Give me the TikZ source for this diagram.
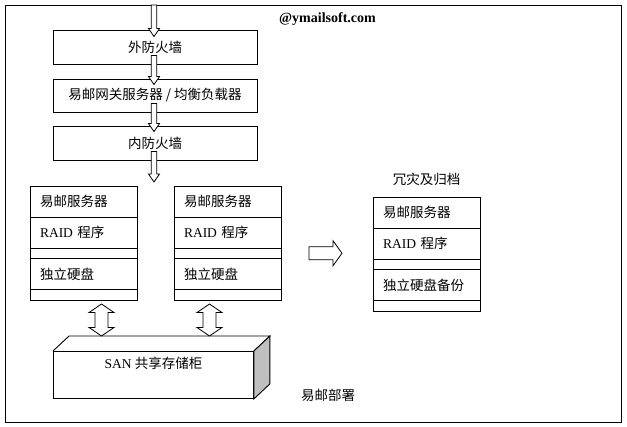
\documentclass[tikz,border=0pt]{standalone}
\usepackage{fontspec}
\setmainfont{Liberation Serif}
\newfontfamily\zh{Noto Sans CJK SC}
\usetikzlibrary{calc,positioning}
\tikzset{>=stealth}
\tikzset{
  wallbox/.style={draw, line width=0.9pt, minimum width=204pt, minimum height=34pt, inner sep=0pt},
  stackrow/.style={draw, line width=0.9pt, outer sep=0pt, text width=87pt, inner xsep=10pt, inner ysep=0pt, minimum height=31pt, align=left},
  stackgap/.style={stackrow, minimum height=10.5pt},
  blockarr/.style={draw, fill=white, line width=0.8pt},
  txt/.style={inner sep=0pt}
}
% hollow block arrows: start point, tip
\newcommand{\blockdown}[2]{%
  \draw[blockarr] let \p1=(#1), \p2=(#2) in
    (\x1-2.75pt,\y1) -- (\x1-2.75pt,\y2+8pt) -- (\x1-5.5pt,\y2+8pt) -- (\x1,\y2)
    -- (\x1+5.5pt,\y2+8pt) -- (\x1+2.75pt,\y2+8pt) -- (\x1+2.75pt,\y1) -- cycle;}
\newcommand{\blockupdown}[2]{%
  \draw[blockarr] let \p1=(#1), \p2=(#2) in
    (\x1,\y1) -- (\x1+12.5pt,\y1-8.5pt) -- (\x1+6.5pt,\y1-8.5pt) -- (\x1+6.5pt,\y2+8.5pt)
    -- (\x1+12.5pt,\y2+8.5pt) -- (\x1,\y2) -- (\x1-12.5pt,\y2+8.5pt) -- (\x1-6.5pt,\y2+8.5pt)
    -- (\x1-6.5pt,\y1-8.5pt) -- (\x1-12.5pt,\y1-8.5pt) -- cycle;}
\newcommand{\blockright}[2]{%
  \draw[blockarr] let \p1=(#1), \p2=(#2) in
    (\x1,\y1+6.5pt) -- (\x2-9pt,\y1+6.5pt) -- (\x2-9pt,\y1+12.5pt) -- (\x2,\y1)
    -- (\x2-9pt,\y1-12.5pt) -- (\x2-9pt,\y1-6.5pt) -- (\x1,\y1-6.5pt) -- cycle;}

\begin{document}
\begin{tikzpicture}[x=1pt, y=-1pt, font=\fontsize{13.5}{16}\selectfont]
    \useasboundingbox (0,0) rectangle (627,427);
    \draw[line width=0.9pt] (5,5) rectangle (621,422);

    \node[txt, anchor=west, font=\fontsize{14}{16}\selectfont\bfseries] (site) at (279,19) {@ymailsoft.com};

    \node[wallbox] (fw1) at (155,47) {\zh 外防火墙};
    \node[wallbox, minimum height=33pt] (gw) at (155,95.5) {\zh 易邮网关服务器 / 均衡负载器};
    \node[wallbox] (fw2) at (155,143) {\zh 内防火墙};

    \foreach \n/\x/\y/\disk in {a/30/186/独立硬盘, b/174/186/独立硬盘, c/373/197/独立硬盘备份}{
      \node[stackrow, anchor=north west] (\n-srv) at (\x,\y) {\zh 易邮服务器};
      \node[stackrow, below=0pt of \n-srv] (\n-raid) {RAID {\zh 程序}};
      \node[stackgap, below=0pt of \n-raid] (\n-gap) {};
      \node[stackrow, below=0pt of \n-gap] (\n-disk) {\zh \disk};
      \node[stackgap, below=0pt of \n-disk] (\n-end) {};
    }

    \node[txt, above=11pt of c-srv] (archive) {\zh 冗灾及归档};
    \node[txt, anchor=west] (deploy) at (301,395) {\zh 易邮部署};

    \node[draw, line width=0.9pt, anchor=north west, minimum width=200pt, minimum height=47pt,
      inner sep=0pt, text height=10pt, text depth=22pt] (san) at (53,351) {SAN {\zh 共享存储柜}};
    \draw[line width=0.9pt] (san.north west) -- ++(16,-15) -- ($(san.north east)+(16,-15)$) -- (san.north east);
    \filldraw[line width=0.9pt, fill=gray!50] (san.north east) -- ++(16,-15) -- ($(san.south east)+(16,-15)$) -- (san.south east) -- cycle;

    \coordinate (in) at (154,5);
    \blockdown{in}{$(fw1.north)+(-1,7)$}
    \blockdown{$(fw1.south)+(-1,-9)$}{$(gw.north)+(0,6)$}
    \blockdown{$(gw.south)+(-1,-9)$}{$(fw2.north)+(0,6)$}
    \blockdown{$(fw2.south)+(-1,-9)$}{$(a-srv.north)+(0,-4)$}

    \blockupdown{$(a-end.south)+(18,4)$}{$(san.north)+(0,-15)$}
    \blockupdown{$(b-end.south)+(-18,4)$}{$(san.north)+(0,-15)$}

    \blockright{$(b-gap.east)+(28,0)$}{$(c-srv.west)+(-31,0)$}
\end{tikzpicture}
\end{document}
